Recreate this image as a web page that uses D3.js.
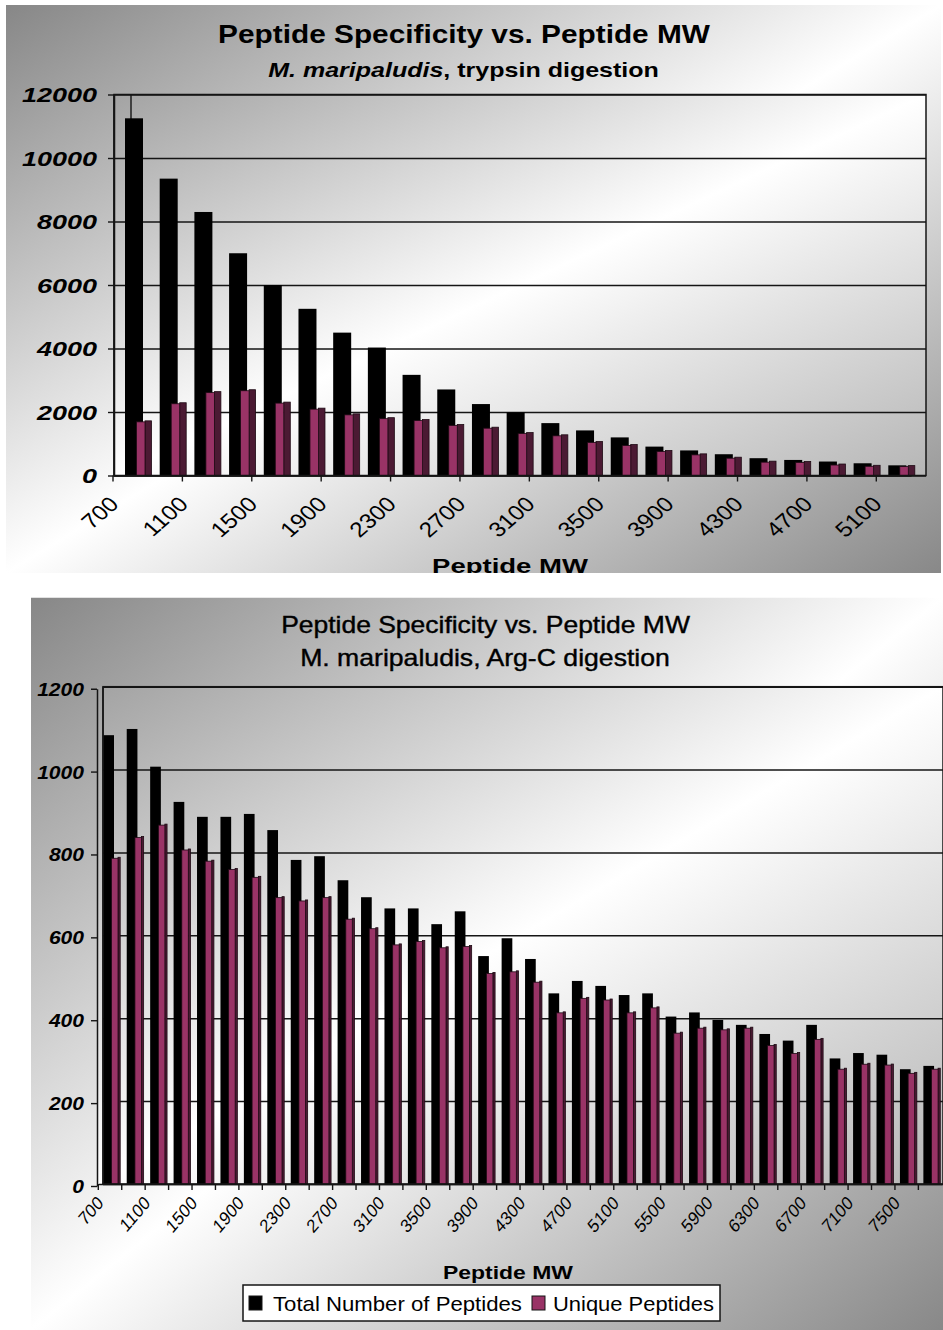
<!DOCTYPE html>
<html>
<head>
<meta charset="utf-8">
<script src="https://cdn.jsdelivr.net/npm/d3@7"></script>
<style>
  body { margin: 0; background: #ffffff; }
  svg { display: block; }
</style>
</head>
<body>
<svg id="chart" width="943" height="1330"></svg>
<script>
// ---- Trypsin digestion: peptide counts per 200 Da molecular-weight bin ----
const trypsinMW = [700, 900, 1100, 1300, 1500, 1700, 1900, 2100, 2300, 2500, 2700, 2900,
                   3100, 3300, 3500, 3700, 3900, 4100, 4300, 4500, 4700, 4900, 5100];
const trypsinTotal = [11250, 9350, 8300, 7000, 6000, 5250, 4500, 4030, 3170, 2710, 2250, 1990,
                      1650, 1420, 1200, 910, 790, 670, 545, 490, 440, 385, 320];
const trypsinUnique = [1690, 2260, 2610, 2670, 2280, 2090, 1910, 1790, 1730, 1575, 1490, 1320,
                       1250, 1040, 945, 755, 650, 545, 420, 410, 330, 290, 280];
const trypsinYTicks = [0, 2000, 4000, 6000, 8000, 10000, 12000];
const trypsinXLabels = ["700", "1100", "1500", "1900", "2300", "2700", "3100", "3500",
                        "3900", "4300", "4700", "5100"];

// ---- Arg-C digestion ----
const argcMW = [700, 900, 1100, 1300, 1500, 1700, 1900, 2100, 2300, 2500, 2700, 2900,
                3100, 3300, 3500, 3700, 3900, 4100, 4300, 4500, 4700, 4900, 5100, 5300,
                5500, 5700, 5900, 6100, 6300, 6500, 6700, 6900, 7100, 7300, 7500, 7700];
const argcTotal = [1083, 1098, 1007, 922, 886, 886, 893, 854, 782, 791, 733, 692,
                   665, 665, 627, 658, 550, 593, 543, 460, 490, 478, 456, 460,
                   404, 414, 396, 384, 362, 346, 384, 303, 316, 312, 277, 285];
const argcUnique = [786, 836, 866, 806, 779, 759, 740, 691, 683, 691, 639, 616,
                    577, 585, 570, 573, 508, 512, 487, 413, 448, 444, 413, 425,
                    364, 376, 372, 376, 334, 315, 349, 277, 289, 287, 267, 277];
const argcYTicks = [0, 200, 400, 600, 800, 1000, 1200];
const argcXLabels = ["700", "1100", "1500", "1900", "2300", "2700", "3100", "3500", "3900",
                     "4300", "4700", "5100", "5500", "5900", "6300", "6700", "7100", "7500"];

const seriesNames = ["Total Number of Peptides", "Unique Peptides"];
const colTotal = "#000000";
const colUnique = "#993366";
const colUniqueSide = "#4b1a33";
const FONT = "'Liberation Sans', Arial, Helvetica, sans-serif";

const svg = d3.select("#chart");
const defs = svg.append("defs");

// diagonal two-tone fills (grey corners, white across the anti-diagonal)
function diagonal(id, c0, c1) {
  const g = defs.append("linearGradient").attr("id", id)
    .attr("x1", 0).attr("y1", 0).attr("x2", 1).attr("y2", 1);
  g.append("stop").attr("offset", 0).attr("stop-color", c0);
  g.append("stop").attr("offset", 0.5).attr("stop-color", "#ffffff");
  g.append("stop").attr("offset", 1).attr("stop-color", c1);
}
diagonal("chartFill", "#878787", "#888888");
diagonal("plotFill", "#a3a3a3", "#b6b6b6");

// text squeezed/stretched horizontally to a given width
function fitted(parent, x, y, width, anchor, font, build) {
  const g = parent.append("g");
  const t = g.append("text")
    .attr("text-anchor", anchor)
    .style("font-family", FONT)
    .style("font-size", font.size + "px")
    .style("font-weight", font.weight || "normal")
    .style("font-style", font.italic ? "italic" : "normal")
    .attr("fill", "#000");
  if (font.thicken) t.attr("stroke", "#000").attr("stroke-width", font.thicken);
  build(t);
  const w = t.node().getComputedTextLength();
  g.attr("transform", `translate(${x},${y}) scale(${width / w},1)`);
  return g;
}

function panel(cfg) {
  const clipId = cfg.id + "-clip";
  defs.append("clipPath").attr("id", clipId).append("rect")
    .attr("x", cfg.box.x).attr("y", cfg.box.y).attr("width", cfg.box.w).attr("height", cfg.box.h);
  const g = svg.append("g").attr("clip-path", `url(#${clipId})`);

  g.append("rect").attr("x", cfg.box.x).attr("y", cfg.box.y)
    .attr("width", cfg.box.w).attr("height", cfg.box.h).attr("fill", "url(#chartFill)");

  const P = cfg.plot;
  g.append("rect").attr("x", P.left).attr("y", P.top)
    .attr("width", P.right - P.left).attr("height", P.bottom - P.top).attr("fill", "url(#plotFill)");

  const x = d3.scaleBand().domain(cfg.categories).range(cfg.bandRange);
  const y = d3.scaleLinear().domain([0, cfg.yMax]).range([P.bottom, P.top]);
  const bw = x.bandwidth();

  // horizontal gridlines on the back wall
  const grid = g.append("g").attr("transform", `translate(${cfg.wallX},0)`)
    .call(d3.axisLeft(y).tickValues(cfg.yTicks).tickSize(-(P.right - cfg.wallX)).tickFormat(""));
  grid.select(".domain").remove();
  grid.selectAll(".tick line").attr("stroke", "#151515").attr("stroke-width", 1.5);

  // back-wall edge
  g.append("line").attr("x1", cfg.wallX).attr("x2", cfg.wallX)
    .attr("y1", y(cfg.yMax)).attr("y2", P.bottom)
    .attr("stroke", "#151515").attr("stroke-width", 1.4);

  // depth edge standing behind the first column
  if (cfg.depthEdgeX) {
    g.append("line").attr("x1", cfg.depthEdgeX).attr("x2", cfg.depthEdgeX)
      .attr("y1", y(cfg.yMax)).attr("y2", P.bottom)
      .attr("stroke", "#151515").attr("stroke-width", 1.4);
  }

  const rows = cfg.categories.map((c, i) => ({ mw: c, total: cfg.total[i], unique: cfg.unique[i] }));
  const B = cfg.bar;
  const bars = g.append("g");
  bars.selectAll("rect.total").data(rows).join("rect").attr("class", "total")
    .attr("x", d => x(d.mw) + B.totalX).attr("width", B.totalW)
    .attr("y", d => y(d.total)).attr("height", d => y(0) - y(d.total))
    .attr("fill", colTotal);
  bars.selectAll("rect.uside").data(rows).join("rect").attr("class", "uside")
    .attr("x", d => x(d.mw) + B.uniqueX + B.uniqueW).attr("width", B.sideW)
    .attr("y", d => y(d.unique) - B.rise).attr("height", d => y(0) - y(d.unique) + B.rise)
    .attr("fill", colUniqueSide).attr("stroke", "#1e0a14").attr("stroke-width", 0.8);
  bars.selectAll("rect.unique").data(rows).join("rect").attr("class", "unique")
    .attr("x", d => x(d.mw) + B.uniqueX).attr("width", B.uniqueW)
    .attr("y", d => y(d.unique)).attr("height", d => y(0) - y(d.unique))
    .attr("fill", colUnique).attr("stroke", "#1e0a14").attr("stroke-width", 0.8);

  // plot frame
  g.append("rect").attr("x", cfg.wallX).attr("y", P.top)
    .attr("width", P.right - cfg.wallX).attr("height", P.bottom - P.top)
    .attr("fill", "none").attr("stroke", "#151515").attr("stroke-width", 1.5);

  // value axis
  const ya = g.append("g").attr("transform", `translate(${P.left},${cfg.axisDrop})`)
    .call(d3.axisLeft(y).tickValues(cfg.yTicks).tickSize(6).tickSizeOuter(0).tickFormat(d3.format("d")));
  ya.select(".domain").attr("stroke", "#151515").attr("stroke-width", 1.5);
  ya.selectAll(".tick line").attr("stroke", "#151515").attr("stroke-width", 1.4);
  ya.selectAll(".tick text")
    .attr("x", 0).attr("dy", "0.36em")
    .attr("transform", `translate(${cfg.yLab.dx},0) scale(${cfg.yLab.sx},1)`)
    .style("font-family", FONT).style("font-size", cfg.yLab.size + "px")
    .style("font-weight", "bold").style("font-style", "italic").attr("fill", "#000");

  // category axis
  const labelSet = new Set(cfg.xLabels);
  const xa = g.append("g").attr("transform", `translate(0,${P.bottom})`)
    .call(d3.axisBottom(x).tickValues(cfg.xTickValues).tickSize(6).tickSizeOuter(0)
      .tickFormat(d => labelSet.has(String(d)) ? String(d) : ""));
  xa.select(".domain").attr("stroke", "#151515").attr("stroke-width", 1.5);
  xa.selectAll(".tick line").attr("x1", -bw / 2).attr("x2", -bw / 2)
    .attr("stroke", "#151515").attr("stroke-width", 1.4);
  xa.selectAll(".tick text")
    .attr("x", 0).attr("y", 0).attr("dy", null)
    .attr("text-anchor", "end")
    .attr("transform", `translate(${-bw / 2 + cfg.xLab.dx},${cfg.xLab.dy}) scale(${cfg.xLab.sx},1) rotate(-45)`)
    .style("font-family", FONT).style("font-size", cfg.xLab.size + "px")
    .attr("fill", "#000");

  return g;
}

// ---------- upper chart: trypsin ----------
const upperChart = panel({
  id: "trypsin",
  box: { x: 6, y: 5, w: 935, h: 568 },
  plot: { left: 114, right: 926, top: 94.5, bottom: 475.5 },
  wallX: 114, axisDrop: 0, depthEdgeX: 131,
  bandRange: [113, 911],
  categories: trypsinMW, total: trypsinTotal, unique: trypsinUnique,
  yMax: 12000, yTicks: trypsinYTicks,
  xTickValues: trypsinMW.filter(v => trypsinXLabels.includes(String(v))),
  xLabels: trypsinXLabels,
  bar: { totalX: 12, totalW: 18, uniqueX: 23.5, uniqueW: 8.5, sideW: 6.5, rise: 1 },
  yLab: { dx: -17, sx: 1.35, size: 20 },
  xLab: { dx: 7, dy: 30, sx: 1.15, size: 21 }
});

fitted(upperChart, 464, 43, 492, "middle", { size: 25, weight: "bold" },
  t => t.text("Peptide Specificity vs. Peptide MW"));
fitted(upperChart, 463.5, 77, 391, "middle", { size: 21, weight: "bold" }, t => {
  t.append("tspan").style("font-style", "italic").text("M. maripaludis");
  t.append("tspan").text(", trypsin digestion");
});
fitted(upperChart, 510, 573, 156, "middle", { size: 21, weight: "bold" }, t => t.text("Peptide MW"));

// ---------- lower chart: Arg-C ----------
const lowerChart = panel({
  id: "argc",
  box: { x: 31, y: 597.5, w: 912, h: 732.5 },
  plot: { left: 97, right: 943, top: 686.7, bottom: 1184 },
  wallX: 103, axisDrop: 2,
  bandRange: [98.3, 941.8],
  categories: argcMW, total: argcTotal, unique: argcUnique,
  yMax: 1200, yTicks: argcYTicks,
  xTickValues: argcMW,
  xLabels: argcXLabels,
  bar: { totalX: 5, totalW: 10.7, uniqueX: 13.2, uniqueW: 6.5, sideW: 2.2, rise: 1 },
  yLab: { dx: -13, sx: 1.17, size: 18 },
  xLab: { dx: 6, dy: 20, sx: 0.85, size: 19 }
});

fitted(lowerChart, 485.5, 633, 409, "middle", { size: 24, thicken: 0.4 },
  t => t.text("Peptide Specificity vs. Peptide MW"));
fitted(lowerChart, 485, 666, 370, "middle", { size: 24, thicken: 0.4 },
  t => t.text("M. maripaludis, Arg-C digestion"));
fitted(lowerChart, 508, 1279, 130, "middle", { size: 18, weight: "bold" }, t => t.text("Peptide MW"));

// legend
const lg = lowerChart.append("g");
lg.append("rect").attr("x", 243).attr("y", 1285).attr("width", 477).attr("height", 36)
  .attr("fill", "#ffffff").attr("stroke", "#151515").attr("stroke-width", 1.5);
const legendItems = [
  { name: seriesNames[0], color: colTotal, sx: 249, tx: 273, tw: 249 },
  { name: seriesNames[1], color: colUnique, sx: 532, tx: 553, tw: 161 }
];
legendItems.forEach(it => {
  lg.append("rect").attr("x", it.sx).attr("y", 1296).attr("width", 13).attr("height", 14)
    .attr("fill", it.color).attr("stroke", "#151515").attr("stroke-width", 1);
  fitted(lg, it.tx, 1311, it.tw, "start", { size: 20 }, t => t.text(it.name));
});
</script>
</body>
</html>
